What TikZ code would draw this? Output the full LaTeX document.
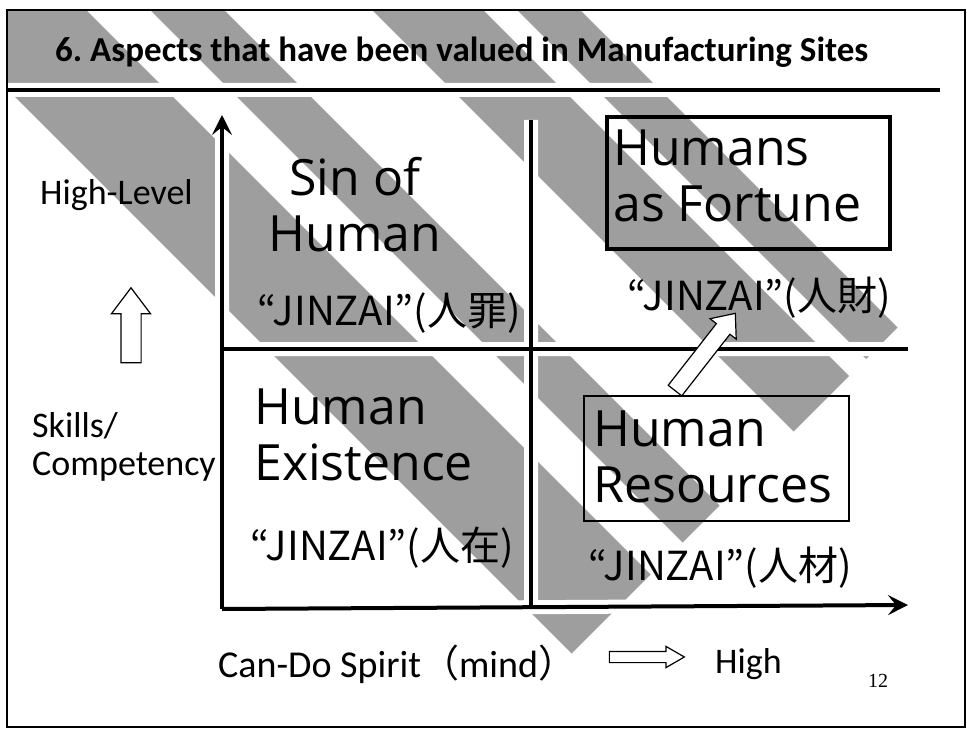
\documentclass[tikz,border=0pt]{standalone}
\usepackage{fontspec}
\setmainfont{Carlito}
\newfontfamily\bigfont{Open Sans}
\newfontfamily\cjk{Noto Sans CJK JP}
\newfontfamily\pagefont{Liberation Serif}
\usetikzlibrary{arrows.meta,shapes.arrows}
\tikzset{
    stripe/.style={fill=black!38},
    halo/.style={white,line width=14pt},
    rule/.style={line width=4pt},
    axis/.style={rule,-{Stealth[length=20pt,width=20pt,inset=8pt]}},
    sidetext/.style={inner sep=0pt,font=\fontsize{36}{38}\selectfont,align=left},
    bigtext/.style={inner sep=0pt,font=\bigfont\fontsize{50}{56}\selectfont,align=left},
    jinzai/.style={inner sep=0pt,font=\cjk\fontsize{40}{48}\selectfont},
    outarrow/.style={single arrow,draw,fill=white,line width=1.2pt,inner xsep=0pt}
}
\begin{document}
\begin{tikzpicture}[x=1pt,y=-1pt]
    \fill[white] (0,0) rectangle (967,730);
    \useasboundingbox (0,0) rectangle (967,730);
    \begin{scope}
    \clip (7,10) rectangle (965,727);
    \foreach \ca/\cb in {82/-76,-140/-214,-362/-473,-507/-570} {
    \fill[stripe] ({(-300-\ca)/2},{(-300+\ca)/2}) -- ({(1225-\ca)/2},{(1225+\ca)/2})
        -- ({(1225-\cb)/2},{(1225+\cb)/2}) -- ({(-300-\cb)/2},{(-300+\cb)/2}) -- cycle;
}
    \end{scope}
    \coordinate (origin) at (222,609);
    \coordinate (ytip) at (222,115);
    \coordinate (xtip) at (908,605);
    \coordinate (vtop) at (531,120);
    \coordinate (vbot) at (531,607);
    \coordinate (hleft) at (222,349);
    \coordinate (hright) at (908,349);
    \draw[halo] (7,90) -- (940,90) (origin) -- (ytip) (origin) -- (xtip) (vtop) -- (vbot) (hleft) -- (hright);
    \draw[rule] (7,90) -- (940,90);
    \draw[rule] (vtop) -- (vbot);
    \draw[rule] (hleft) -- (hright);
    \draw[axis] (origin) -- (ytip);
    \draw[axis] (origin) -- (xtip);
    \node[draw,line width=4pt,minimum width=283pt,minimum height=132pt,inner sep=0pt,anchor=north west] (fortunebox) at (605,115) {};
    \node[draw,line width=1.5pt,minimum width=265pt,minimum height=125pt,inner sep=0pt,anchor=north west] (resourcebox) at (583,395) {};
    \node[font=\bfseries\fontsize{35}{40}\selectfont,inner sep=0pt,anchor=base west] (title) at (55,62) {6.\ Aspects that have been valued in Manufacturing Sites};
    \node[sidetext,anchor=base west] (highlevel) at (40,205) {High-Level};
    \node[sidetext,anchor=base west] (skills) at (32,475) {Skills/\\Competency};
    \node[sidetext,font=\fontsize{38}{40}\selectfont,anchor=base west] (spirit) at (218,677) {Can-Do Spirit{\cjk （}mind{\cjk ）}};
    \node[sidetext,anchor=base west] (high) at (715,673) {High};
    \node[font=\pagefont\fontsize{20}{24}\selectfont,inner sep=0pt,anchor=base west] (pagenum) at (868,687) {12};
    \node[bigtext,align=center,anchor=base] (sin) at (355,252) {Sin of\\Human};
    \node[jinzai,anchor=base west] (sinjinzai) at (257,325) {“JINZAI”(人罪)};
    \node[bigtext,anchor=base west] (existence) at (254,480) {Human\\Existence};
    \node[jinzai,anchor=base west] (existjinzai) at (250,560) {“JINZAI”(人在)};
    \node[bigtext,anchor=base west] (fortune) at (613,222) {Humans\\as Fortune};
    \node[jinzai,anchor=base west] (fortunejinzai) at (627,310) {“JINZAI”(人財)};
    \node[bigtext,anchor=base west] (resources) at (593,502) {Human\\Resources};
    \node[jinzai,anchor=base west] (resourcejinzai) at (588,580) {“JINZAI”(人材)};
    \node[outarrow,rotate=90,minimum height=75pt,inner ysep=9.5pt,single arrow head extend=9.5pt,single arrow tip angle=74] (levelarrow) at (131,332) {};
    \node[outarrow,minimum height=75pt,inner ysep=5pt,single arrow head extend=5pt,single arrow tip angle=60] (spiritarrow) at (642,657) {};
    \node[outarrow,rotate=52,minimum height=98pt,inner ysep=8pt,single arrow head extend=8pt,single arrow tip angle=80] (riseuparrow) at (702,356) {};
    \draw[line width=1.5pt] (7,10) rectangle (965,727);
\end{tikzpicture}
\end{document}
